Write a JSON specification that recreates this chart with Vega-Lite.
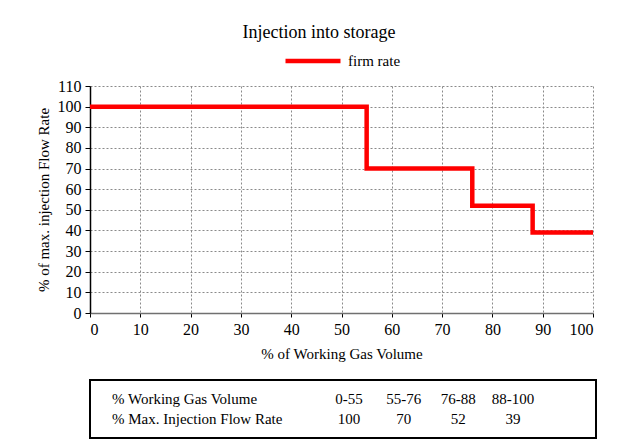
{
  "$schema": "https://vega.github.io/schema/vega-lite/v6.json",
  "padding": {"left": 36, "top": 24, "right": 5, "bottom": 5},
  "background": "white",
  "title": {"text": "Injection into storage", "font": "Liberation Serif", "fontSize": 18, "fontWeight": "normal", "color": "black", "anchor": "middle", "offset": -11},
  "config": {
    "font": "Liberation Serif",
    "view": {"stroke": null},
    "legend": {"layout": {"top": {"anchor": "middle"}}}
  },
  "resolve": {"legend": {"color": "independent"}, "scale": {"color": "independent"}},
  "datasets": {
    "steps": [
      {"pct": 0, "rate": 100, "series": "firm rate"},
      {"pct": 55, "rate": 70, "series": "firm rate"},
      {"pct": 76, "rate": 52, "series": "firm rate"},
      {"pct": 88, "rate": 39, "series": "firm rate"},
      {"pct": 100, "rate": 39, "series": "firm rate"}
    ],
    "labels": [
      {"row": "r1", "text": "% Working Gas Volume"},
      {"row": "r2", "text": "% Max. Injection Flow Rate"}
    ],
    "cells": [
      {"row": "r1", "col": "c1", "text": "0-55"},
      {"row": "r1", "col": "c2", "text": "55-76"},
      {"row": "r1", "col": "c3", "text": "76-88"},
      {"row": "r1", "col": "c4", "text": "88-100"},
      {"row": "r2", "col": "c1", "text": "100"},
      {"row": "r2", "col": "c2", "text": "70"},
      {"row": "r2", "col": "c3", "text": "52"},
      {"row": "r2", "col": "c4", "text": "39"}
    ]
  },
  "columns": 1,
  "spacing": 18,
  "concat": [
    {
      "width": 503,
      "height": 227,
      "data": {"name": "steps"},
      "mark": {"type": "line", "interpolate": "step-after", "strokeWidth": 4.5, "color": "#ff0000"},
      "encoding": {
        "x": {
          "field": "pct", "type": "quantitative",
          "scale": {"domain": [0, 100], "nice": false},
          "axis": {
            "values": [0, 10, 20, 30, 40, 50, 60, 70, 80, 90, 100],
            "title": "% of Working Gas Volume",
            "titleFont": "Liberation Serif", "titleFontSize": 15, "titleFontWeight": "normal", "titleColor": "black", "titlePadding": 9,
            "labelFont": "Liberation Serif", "labelFontSize": 16, "labelColor": "black", "labelPadding": 4,
            "domainColor": "#707070", "domainWidth": 1.5, "tickColor": "black", "tickSize": 4,
            "grid": true, "gridColor": "#8a8a8a", "gridDash": [2, 2], "gridWidth": 1, "gridOpacity": 1
          }
        },
        "y": {
          "field": "rate", "type": "quantitative",
          "scale": {"domain": [0, 110], "nice": false},
          "axis": {
            "values": [0, 10, 20, 30, 40, 50, 60, 70, 80, 90, 100, 110],
            "title": "% of max. injection Flow Rate",
            "titleFont": "Liberation Serif", "titleFontSize": 15, "titleFontWeight": "normal", "titleColor": "black", "titlePadding": 6,
            "labelFont": "Liberation Serif", "labelFontSize": 16, "labelColor": "black", "labelPadding": 4,
            "domainColor": "black", "domainWidth": 1.5, "tickColor": "black", "tickSize": 5,
            "grid": true, "gridColor": "#8a8a8a", "gridDash": [2, 2], "gridWidth": 1, "gridOpacity": 1
          }
        },
        "color": {
          "field": "series", "type": "nominal",
          "scale": {"range": ["#ff0000"]},
          "legend": {
            "orient": "top", "title": null,
            "symbolType": "stroke", "symbolSize": 3025, "symbolStrokeWidth": 4.5, "symbolStrokeColor": "#ff0000",
            "labelFont": "Liberation Serif", "labelFontSize": 15, "labelColor": "black", "labelOffset": 5, "offset": 16
          }
        }
      }
    },
    {
      "width": 506,
      "height": 58,
      "view": {"stroke": "black", "strokeWidth": 2},
      "layer": [
        {
          "data": {"name": "labels"},
          "mark": {"type": "text", "align": "left", "baseline": "middle", "fontSize": 15, "font": "Liberation Serif", "color": "black", "dx": 22},
          "encoding": {
            "x": {"datum": "label", "type": "nominal", "scale": {"type": "point", "padding": 0, "align": 0}, "axis": null},
            "y": {
              "field": "row", "type": "nominal",
              "scale": {"type": "point", "padding": 1.11},
              "axis": null
            },
            "text": {"field": "text"}
          }
        },
        {
          "data": {"name": "cells"},
          "mark": {"type": "text", "align": "center", "baseline": "middle", "fontSize": 15, "font": "Liberation Serif", "color": "black"},
          "encoding": {
            "x": {"field": "col", "type": "nominal", "scale": {"type": "point", "range": [259, 423], "padding": 0}, "axis": null},
            "y": {"field": "row", "type": "nominal"},
            "text": {"field": "text"}
          }
        }
      ],
      "resolve": {"scale": {"x": "independent"}}
    }
  ]
}
